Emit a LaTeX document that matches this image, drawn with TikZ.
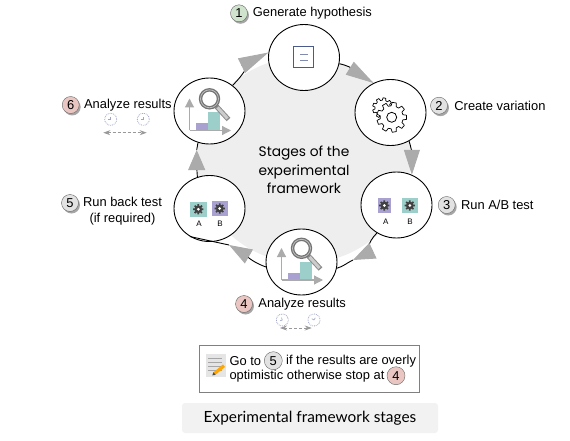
\documentclass[tikz,border=0pt]{standalone}
\usepackage{fontspec}
\setmainfont{Liberation Sans}
\newfontfamily\handfont{Poppins}
\newfontfamily\capfont{Lato}
\usetikzlibrary{shapes.geometric,arrows.meta,positioning,shadows}
\definecolor{ringgray}{HTML}{EEEEEE}
\definecolor{tipgray}{HTML}{ABABAB}
\definecolor{barpurple}{HTML}{A9A1CF}
\definecolor{barteal}{HTML}{9CCFC9}
\definecolor{docblue}{HTML}{4A5A8C}
\definecolor{clockblue}{HTML}{9EA5C4}
\definecolor{badgegreen}{HTML}{CFE3CD}
\definecolor{badgegray}{HTML}{E2E2E2}
\definecolor{badgered}{HTML}{E9C6C2}
\tikzset{
    stage/.style={ellipse,draw=black,fill=white,line width=0.9pt,minimum width=71pt,minimum height=66pt,inner sep=0pt},
    stagelink/.style={draw=black,line width=0.9pt},
    stagetip/.style 2 args={stagelink,-{Triangle[length=#1pt,width=#2pt,color=tipgray]}},
    badge/.style={circle,draw=black!60,minimum size=17pt,inner sep=0pt,font=\fontsize{12.9}{15}\selectfont},
    badgeshadow/.style={drop shadow={shadow xshift=1.5pt,shadow yshift=-2pt,fill=black!35,opacity=1}},
    greenbadge/.style={badge,badgeshadow,fill=badgegreen},
    graybadge/.style={badge,badgeshadow,fill=badgegray},
    redbadge/.style={badge,badgeshadow,fill=badgered},
    steplabel/.style={inner sep=0pt,font=\fontsize{12.9}{15}\selectfont},
    abmark/.style={inner sep=0pt,font=\fontsize{8}{9}\selectfont},
    % small and large gear outlines
    pics/cogwheel/.style={code={
        \draw[fill=white,line width=0.7pt,line join=round] (-13:11.5)
            \foreach \a in {0,40,...,320} { -- (\a-13:11.5) -- (\a-8:15) -- (\a+8:15) -- (\a+13:11.5) } -- cycle;
    }},
    pics/minicog/.style={code={
        \fill[black!75] (-14:3.6)
            \foreach \a in {0,45,...,315} { -- (\a-14:3.6) -- (\a-9:5.2) -- (\a+9:5.2) -- (\a+14:3.6) } -- cycle;
        \fill[white] (0,0) circle (1.5);
    }},
    % bar chart under a magnifier
    pics/chartlens/.style={code={
        \fill[barpurple] (-13.5,18) rectangle (-1.5,10.7);
        \fill[barteal] (-1.5,18) rectangle (10.5,-0.3);
        \draw[tipgray,line width=1.2pt,-{Triangle[length=9pt,width=9pt]}] (-20,18) -- (-20,-14);
        \draw[tipgray,line width=1.2pt,-{Triangle[length=9pt,width=9pt]}] (-20,18) -- (21.5,18);
        \draw[black!45,line width=5pt] (7,-6) -- (19,7);
        \draw[black!20,line width=3pt] (8,-5) -- (18,6);
        \draw[black!55,fill=white,line width=3.4pt] (0,-13.7) circle (9);
        \draw[black!25,line width=0.8pt] (0,-13.7) circle (9);
    }},
    % dashed stopwatch
    pics/dashclock/.style={code={
        \draw[clockblue,densely dotted,line width=0.8pt] (0,0) circle (6);
        \draw[clockblue,line width=0.6pt] (-2.5,0) -- (0,0) -- (0,-2.5);
    }},
    clockspan/.style={black!40,densely dashed,line width=0.7pt,{Stealth[length=7pt,width=5pt]}-{Stealth[length=7pt,width=5pt]}}
}

\begin{document}
\begin{tikzpicture}[x=1pt,y=-1pt]
    \useasboundingbox (0,0) rectangle (570,441);

    % Grey disc behind the stages
    \fill[ringgray] (304,160) ellipse (107 and 103);

    % Stage circles
    \node[stage] (hyp) at (304,57.5) {};
    \node[stage] (var) at (390.5,112.5) {};
    \node[stage] (abrun) at (396.5,205) {};
    \node[stage] (resb) at (301.5,262) {};
    \node[stage] (back) at (209.5,208.5) {};
    \node[stage] (rest) at (209.5,111) {};

    % Free tips on the ring
    \coordinate (tipc) at (353,260);
    \coordinate (tipd) at (229,245);
    \coordinate (tipe) at (196.7,150);

    % Ring with arrows
    \draw[stagetip={28}{15}] (hyp.-10) to[out=-12,in=148] (var.120);
    \draw[stagetip={25}{16}] (var.-57) to[out=-72,in=90] (abrun.63);
    \draw[stagetip={22}{17}] (abrun.-125) to[out=-135,in=25] (tipc);
    \draw[stagelink] (tipc) to[out=205,in=15] (resb.-10);
    \draw[stagetip={23}{16}] (resb.188) to[out=160,in=-30] (tipd);
    \draw[stagelink] (tipd) -- (back.-125);
    \draw[stagetip={20}{17}] (back.111) to[out=95,in=-90] (tipe);
    \draw[stagelink] (tipe) -- (rest.-110);
    \draw[stagetip={30}{16}] (rest.48) to[out=45,in=206] (hyp.172);

    % Centre title
    \node[align=center,font=\handfont\fontsize{13.8}{18.5}\selectfont] (title) at (304,170) {Stages of the\\experimental\\framework};

    % Stage 1: document
    \draw[docblue,line width=1.5pt,fill=white] (293.3,46.7) rectangle (313.3,67.7);
    \draw[docblue!70,line width=0.9pt] (300,54) -- (308,54);
    \draw[docblue!70,line width=0.9pt] (300,60.7) -- (308,60.7);

    % Stage 2: gears
    \pic[scale=0.68] at (382.7,108) {cogwheel};
    \pic at (391.7,117.3) {cogwheel};
    \draw[line width=0.8pt] (391.7,117.3) circle (5);

    % Stage 3: A and B
    \fill[barpurple] (378,198) rectangle (390.7,213);
    \fill[barteal] (402,198) rectangle (417.7,213);
    \pic at (384.3,205.5) {minicog};
    \pic at (409.8,205.5) {minicog};
    \node[abmark] (abA) at (385.7,221.7) {A};
    \node[abmark] (abB) at (410,221.7) {B};

    % Stage 4 and 6: chart
    \pic at (301.5,262) {chartlens};
    \pic at (209.5,112.5) {chartlens};

    % Stage 5: A and B
    \fill[barteal] (190,202) rectangle (206.7,216.7);
    \fill[barpurple] (211.7,201) rectangle (227.7,216);
    \pic at (198.3,209.3) {minicog};
    \pic at (219.7,208.5) {minicog};
    \node[abmark] (backA) at (199,224) {A};
    \node[abmark] (backB) at (220,224) {B};

    % Numbered labels
    \node[greenbadge] (one) at (239,13.3) {1};
    \node[steplabel,right=5pt of one] (onetxt) {Generate hypothesis};
    \node[graybadge] (two) at (439,105.7) {2};
    \node[steplabel,right=6.5pt of two] (twotxt) {Create variation};
    \node[graybadge] (three) at (446.7,205) {3};
    \node[steplabel,right=5.5pt of three] (threetxt) {Run A/B test};
    \node[redbadge] (four) at (244,304) {4};
    \node[steplabel,right=5.5pt of four] (fourtxt) {Analyze results};
    \node[graybadge] (five) at (70,203) {5};
    \node[steplabel,align=center,font=\fontsize{12.9}{16}\selectfont,anchor=north] (fivetxt) at (122.5,197) {Run back test\\(if required)};
    \node[redbadge] (six) at (70.7,105) {6};
    \node[steplabel,right=4.5pt of six] (sixtxt) {Analyze results};

    % Clocks under the result labels
    \pic at (110.7,119.3) {dashclock};
    \pic at (143.3,119.3) {dashclock};
    \coordinate (spanl) at (103.3,132.7);
    \coordinate (spanr) at (146.7,132.7);
    \draw[clockspan] (spanl) -- (spanr);
    \pic[rotate=20] at (282.3,320) {dashclock};
    \pic[rotate=-30] at (314,320) {dashclock};
    \coordinate (spanbl) at (280,328);
    \coordinate (spanbr) at (311.7,328);
    \draw[clockspan] (spanbl) -- (spanbr);

    % Note box
    \node[draw=black!50,fill=white,minimum width=220pt,minimum height=47pt,inner sep=0pt,line width=0.8pt] (note) at (309,368.5) {};
    \fill[black!10] (206,354) rectangle (226,376.7);
    \foreach \y in {358,362,366,370} {
        \draw[black!35,line width=0.5pt] (208,\y) -- (222,\y);
    }
    \draw[orange!70!yellow,line width=3.2pt] (224,365.7) -- (214.5,373.5);
    \fill[black!70] (212.3,375.4) -- (213.4,372.2) -- (215.6,374.8) -- cycle;
    \node[steplabel,anchor=west] (goto) at (229.3,360.7) {Go to};
    \node[badge,fill=badgegray,minimum size=18pt] (gofive) at (273.3,360.7) {5};
    \node[steplabel,anchor=west] (gotail) at (286,360.7) {if the results are overly};
    \node[steplabel,anchor=west] (stop) at (229.3,375.7) {optimistic otherwise stop at};
    \node[badge,fill=badgered,minimum size=18pt] (stopfour) at (396,375.7) {4};

    % Caption
    \node[fill=black!5,rounded corners=3pt,minimum width=256pt,minimum height=30pt,inner sep=0pt,font=\capfont\fontsize{15.4}{18}\selectfont] (caption) at (310,418) {Experimental framework stages};
\end{tikzpicture}
\end{document}
